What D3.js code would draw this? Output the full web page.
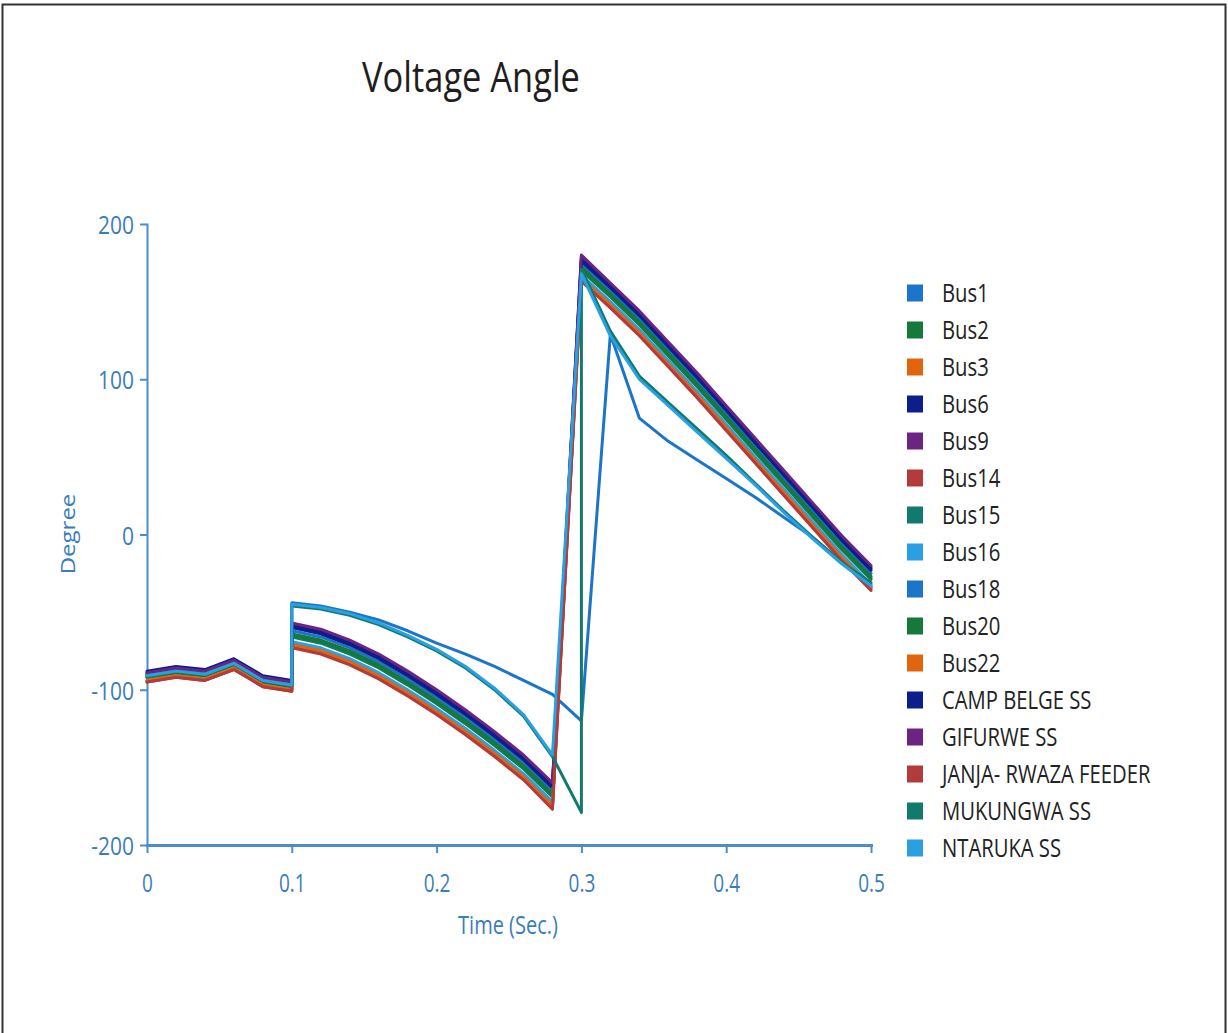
<!DOCTYPE html>
<html>
<head>
<meta charset="utf-8">
<script src="https://cdn.jsdelivr.net/npm/d3@7"></script>
<style>
  html, body { margin: 0; padding: 0; background: #fff; }
  svg { display: block; }
</style>
</head>
<body>
<svg id="chart" width="1228" height="1033"></svg>
<script>
// Simulation time stamps (s). 0.1 and 0.3 appear twice: the fault and its clearing step.
const time = [0, 0.02, 0.04, 0.06, 0.08, 0.1, 0.1, 0.12, 0.14, 0.16, 0.18, 0.2, 0.22, 0.24, 0.26, 0.28,
              0.3, 0.3, 0.32, 0.34, 0.36, 0.38, 0.4, 0.42, 0.44, 0.46, 0.48, 0.5];

// Voltage angle per bus (degrees), one value per time stamp
const bus1   = [-91, -88, -90, -83, -94, -97, -62, -66, -73, -82, -93, -105, -118, -132, -147, -165, 174, 174, 157, 139, 119, 99, 78, 57, 36, 15, -6, -25];
const bus2   = [-92, -89, -91, -84, -95, -98, -64, -68, -75, -84, -95, -107, -120, -134, -149, -167, 172, 172, 155, 137, 117, 97, 76, 55, 34, 13, -8, -27];
const bus3   = [-94, -91, -93, -86, -97, -100, -70, -74, -81, -90, -101, -113, -126, -140, -155, -174, 166, 166, 149, 131, 111, 91, 70, 49, 28, 7, -14, -33];
const bus6   = [-89, -86, -88, -81, -92, -95, -60, -64, -71, -80, -91, -103, -116, -130, -145, -163, 176, 176, 159, 141, 121, 101, 80, 59, 38, 17, -4, -23];
const bus9   = [-90, -87, -89, -82, -93, -96, -58, -62, -69, -78, -89, -101, -114, -128, -143, -161, 179, 179, 161, 143, 123, 103, 82, 61, 40, 19, -2, -21];
const bus14  = [-95, -92, -94, -87, -98, -101, -72, -76, -83, -92, -103, -115, -128, -142, -157, -176, 164, 164, 147, 129, 109, 89, 68, 47, 26, 5, -16, -35];
const bus15  = [-91, -88, -90, -83, -94, -97, -66, -70, -77, -86, -97, -109, -122, -136, -151, -169, 170, 170, 153, 135, 115, 95, 74, 53, 32, 11, -10, -29];
const bus16  = [-92, -89, -91, -84, -95, -98, -69, -73, -80, -89, -100, -112, -125, -139, -154, -172, 167, 167, 150, 132, 112, 92, 71, 50, 29, 8, -13, -32];
const bus18  = [-90, -87, -89, -82, -93, -96, -44, -46, -50, -55, -62, -70, -77, -85, -94, -103, -120, -120, 129, 75, 60, 48, 36, 24, 11, -2, -18, -34];
const bus20  = [-92, -89, -91, -84, -95, -98, -65, -69, -76, -85, -96, -108, -121, -135, -150, -168, 171, 171, 154, 136, 116, 96, 75, 54, 33, 12, -9, -28];
const bus22  = [-94, -91, -93, -86, -97, -100, -71, -75, -82, -91, -102, -114, -127, -141, -156, -175, 165, 165, 148, 130, 110, 90, 69, 48, 27, 6, -15, -34];
const campBelge = [-88, -85, -87, -80, -91, -94, -59, -63, -70, -79, -90, -102, -115, -129, -144, -162, 177, 177, 160, 142, 122, 102, 81, 60, 39, 18, -3, -22];
const gifurwe   = [-89, -86, -88, -81, -92, -95, -57, -61, -68, -77, -88, -100, -113, -127, -142, -160, 180, 180, 162, 144, 124, 104, 83, 62, 41, 20, -1, -20];
const janja     = [-95, -92, -94, -87, -98, -101, -73, -77, -84, -93, -104, -116, -129, -143, -158, -177, 163, 163, 146, 128, 108, 88, 67, 46, 25, 4, -17, -36];
const mukungwa  = [-91, -88, -90, -83, -94, -97, -46, -48, -52, -58, -66, -75, -86, -100, -117, -143, -179, 171, 131, 102, 85, 68, 51, 33, 15, -2, -18, -31];
const ntaruka   = [-91, -88, -90, -83, -94, -97, -45, -47, -51, -57, -65, -74, -85, -99, -116, -142, 168, 168, 128, 100, 83, 66, 49, 32, 14, -3, -19, -33];

const seriesNames = ["Bus1", "Bus2", "Bus3", "Bus6", "Bus9", "Bus14", "Bus15", "Bus16", "Bus18", "Bus20", "Bus22",
                     "CAMP BELGE SS", "GIFURWE SS", "JANJA- RWAZA FEEDER", "MUKUNGWA SS", "NTARUKA SS"];
const seriesValues = [bus1, bus2, bus3, bus6, bus9, bus14, bus15, bus16, bus18, bus20, bus22,
                      campBelge, gifurwe, janja, mukungwa, ntaruka];
const palette = ["#1b75c8", "#16793c", "#e2640f", "#0d1e8c", "#6b2482", "#b23b3b", "#127a6c", "#28a0e2"];

const xTicks = [0, 0.1, 0.2, 0.3, 0.4, 0.5];
const yTicks = [-200, -100, 0, 100, 200];

const chartTitle = "Voltage Angle";
const xTitle = "Time (Sec.)";
const yTitle = "Degree";

// Glyphs are drawn horizontally condensed
const FONT = "'Open Sans', 'Noto Sans', sans-serif";
const AXIS_COLOR = "#4b8ccb";
const LABEL_COLOR = "#3a7cbc";

const svg = d3.select("#chart");

// outer frame
svg.append("path")
  .attr("d", "M2.5,1040 V4.5 H1225.5 V1040")
  .attr("fill", "none").attr("stroke", "#333").attr("stroke-width", 2);

const x = d3.scaleLinear().domain([0, 0.5]).range([147, 871]);
const y = d3.scaleLinear().domain([-200, 200]).range([845, 224]);

function condensedText(parent, tx, ty, str, opts) {
  const sx = opts.sx;
  return parent.append("text")
    .attr("transform", `translate(${tx},${ty}) scale(${sx},1)${opts.rotate ? " rotate(-90)" : ""}`)
    .attr("text-anchor", opts.anchor || "middle")
    .attr("dominant-baseline", opts.baseline || "alphabetic")
    .attr("font-family", FONT)
    .attr("font-size", opts.size)
    .attr("fill", opts.color)
    .text(str);
}

// title
condensedText(svg, 471, 92, chartTitle, { size: 42, sx: 0.82, color: "#1e1e1e" });

// y axis
const yAxis = svg.append("g")
  .attr("transform", `translate(${x(0)},0)`)
  .call(d3.axisLeft(y).tickValues(yTicks).tickSize(7).tickSizeOuter(0).tickFormat(d => String(d)));
yAxis.select(".domain").attr("stroke", AXIS_COLOR).attr("stroke-width", 2);
yAxis.selectAll(".tick line").attr("stroke", AXIS_COLOR).attr("stroke-width", 2);
yAxis.selectAll(".tick text")
  .attr("x", null).attr("dy", null)
  .attr("transform", "translate(-13,0) scale(0.84,1)")
  .attr("dominant-baseline", "central")
  .attr("font-family", FONT).attr("font-size", 25).attr("fill", LABEL_COLOR);

// x axis
const xAxis = svg.append("g")
  .attr("transform", `translate(0,${y(-200)})`)
  .call(d3.axisBottom(x).tickValues(xTicks).tickSize(8).tickSizeOuter(0).tickFormat(d => d === 0 ? "0" : d3.format(".1f")(d)));
xAxis.select(".domain").attr("stroke", AXIS_COLOR).attr("stroke-width", 3);
xAxis.selectAll(".tick line").attr("stroke", AXIS_COLOR).attr("stroke-width", 2);
xAxis.selectAll(".tick text")
  .attr("y", null).attr("dy", null)
  .attr("transform", "translate(0,37) scale(0.76,1)")
  .attr("dominant-baseline", "central")
  .attr("font-family", FONT).attr("font-size", 25).attr("fill", LABEL_COLOR);
svg.selectAll(".domain").attr("stroke-linecap", "square");

condensedText(svg, 508, 925, xTitle, { size: 25, sx: 0.8, color: LABEL_COLOR, baseline: "central" });
condensedText(svg, 67, 534, yTitle, { size: 24, sx: 0.85, color: LABEL_COLOR, baseline: "central", rotate: true });

// series lines
const line = d3.line().x((d, i) => x(time[i])).y(d => y(d));
const plot = svg.append("g");
seriesValues.forEach((vals, k) => {
  plot.append("path")
    .datum(vals)
    .attr("d", line)
    .attr("fill", "none")
    .attr("stroke", palette[k % palette.length])
    .attr("stroke-width", 3)
    .attr("stroke-linejoin", "round")
    .attr("stroke-linecap", "round");
});

// legend
const legend = svg.append("g");
seriesNames.forEach((name, k) => {
  const cy = 293 + k * 37;
  legend.append("rect")
    .attr("x", 907).attr("y", cy - 8.5).attr("width", 16).attr("height", 17)
    .attr("fill", palette[k % palette.length]);
  condensedText(legend, 942, cy, name, { size: 25, sx: 0.81, color: "#222", anchor: "start", baseline: "central" });
});
</script>
</body>
</html>
